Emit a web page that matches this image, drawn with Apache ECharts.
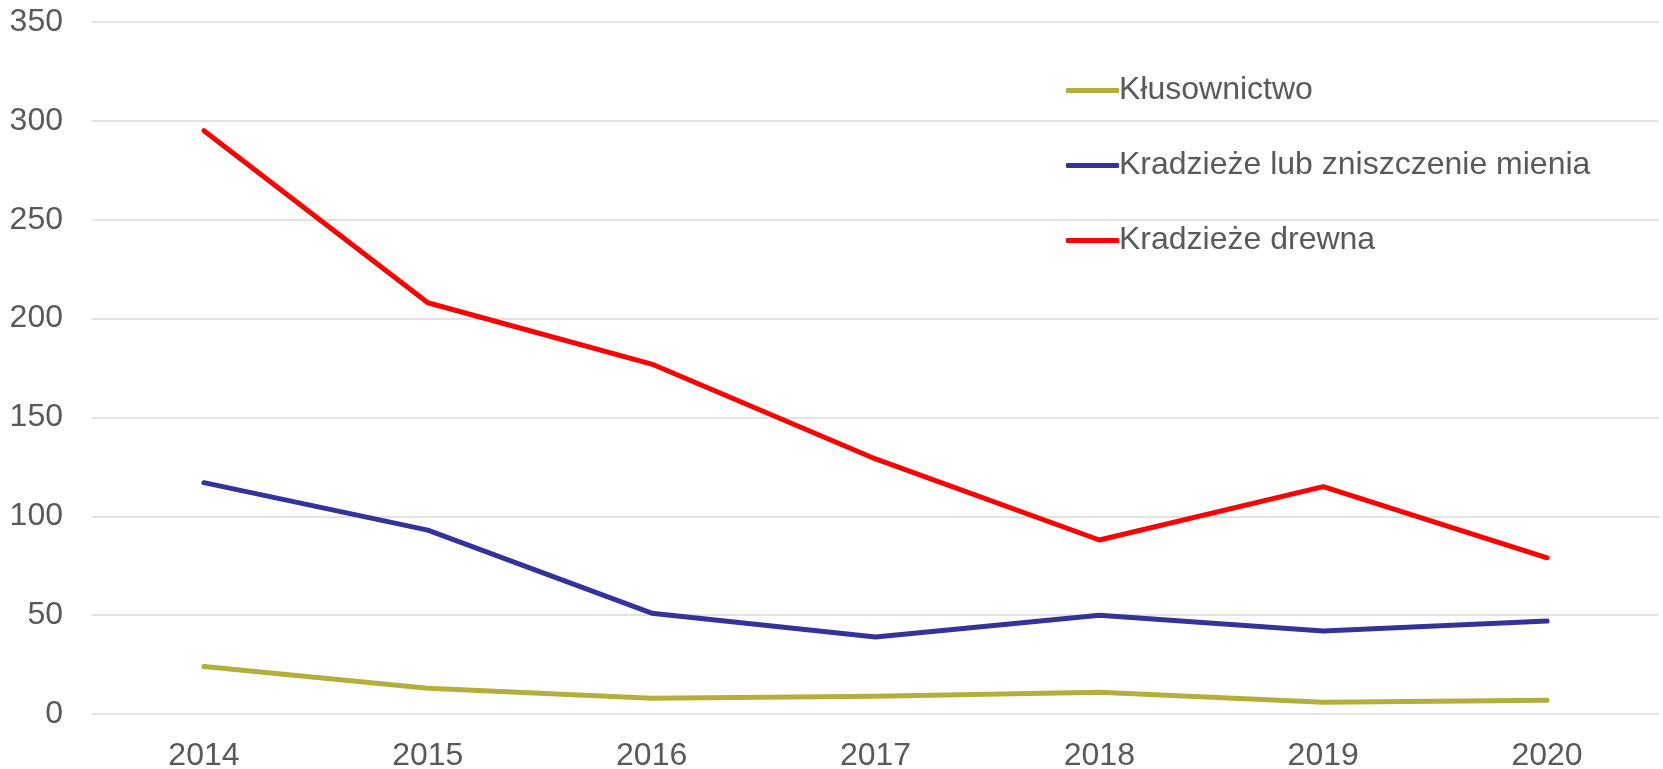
<!DOCTYPE html>
<html>
<head>
<meta charset="utf-8">
<script src="https://cdn.jsdelivr.net/npm/echarts@6/dist/echarts.min.js"></script>
<style>
  html, body { margin: 0; padding: 0; background: #fff; }
  #chart { width: 1663px; height: 769px; }
</style>
</head>
<body>
<div id="chart"></div>
<script>
// lata
var years = ['2014', '2015', '2016', '2017', '2018', '2019', '2020'];
// serie
var seriesNames = ['Kłusownictwo', 'Kradzieże lub zniszczenie mienia', 'Kradzieże drewna'];
var klusownictwo = [24, 13, 8, 9, 11, 6, 7];
var kradziezeMienia = [117, 93, 51, 39, 50, 42, 47];
var kradziezeDrewna = [295, 208, 177, 129, 88, 115, 79];
var colors = ['#B5AE3C', '#333399', '#FF0000'];

var myChart = echarts.init(document.getElementById('chart'));

function makeLine(name, data, color) {
    return {
        name: name,
        type: 'line',
        data: data,
        symbol: 'none',
        showSymbol: false,
        lineStyle: { color: color, width: 5, cap: 'round', join: 'round' },
        itemStyle: { color: color }
    };
}

var option = {
    animation: false,
    textStyle: { fontFamily: 'Liberation Sans, Arial, sans-serif' },
    grid: { left: 92, right: 4, top: 22, bottom: 55, containLabel: false, outerBoundsMode: 'none' },
    legend: {
        orient: 'vertical',
        left: 1061,
        top: 67,
        icon: 'roundRect',
        itemWidth: 53,
        itemHeight: 5,
        itemGap: 38,
        data: seriesNames,
        textStyle: { color: '#595959', fontSize: 32, lineHeight: 37, padding: [0, 0, 0, -5] }
    },
    xAxis: {
        type: 'category',
        data: years,
        boundaryGap: true,
        axisLine: { show: false },
        axisTick: { show: false },
        axisLabel: { color: '#595959', fontSize: 32, margin: 26 }
    },
    yAxis: {
        type: 'value',
        min: 0,
        max: 350,
        interval: 50,
        axisLine: { show: false },
        axisTick: { show: false },
        axisLabel: { color: '#595959', fontSize: 32, margin: 29 },
        splitLine: { lineStyle: { color: '#D9D9D9', width: 1.5 } }
    },
    series: [
        makeLine(seriesNames[0], klusownictwo, colors[0]),
        makeLine(seriesNames[1], kradziezeMienia, colors[1]),
        makeLine(seriesNames[2], kradziezeDrewna, colors[2])
    ]
};

myChart.setOption(option);
</script>
</body>
</html>
